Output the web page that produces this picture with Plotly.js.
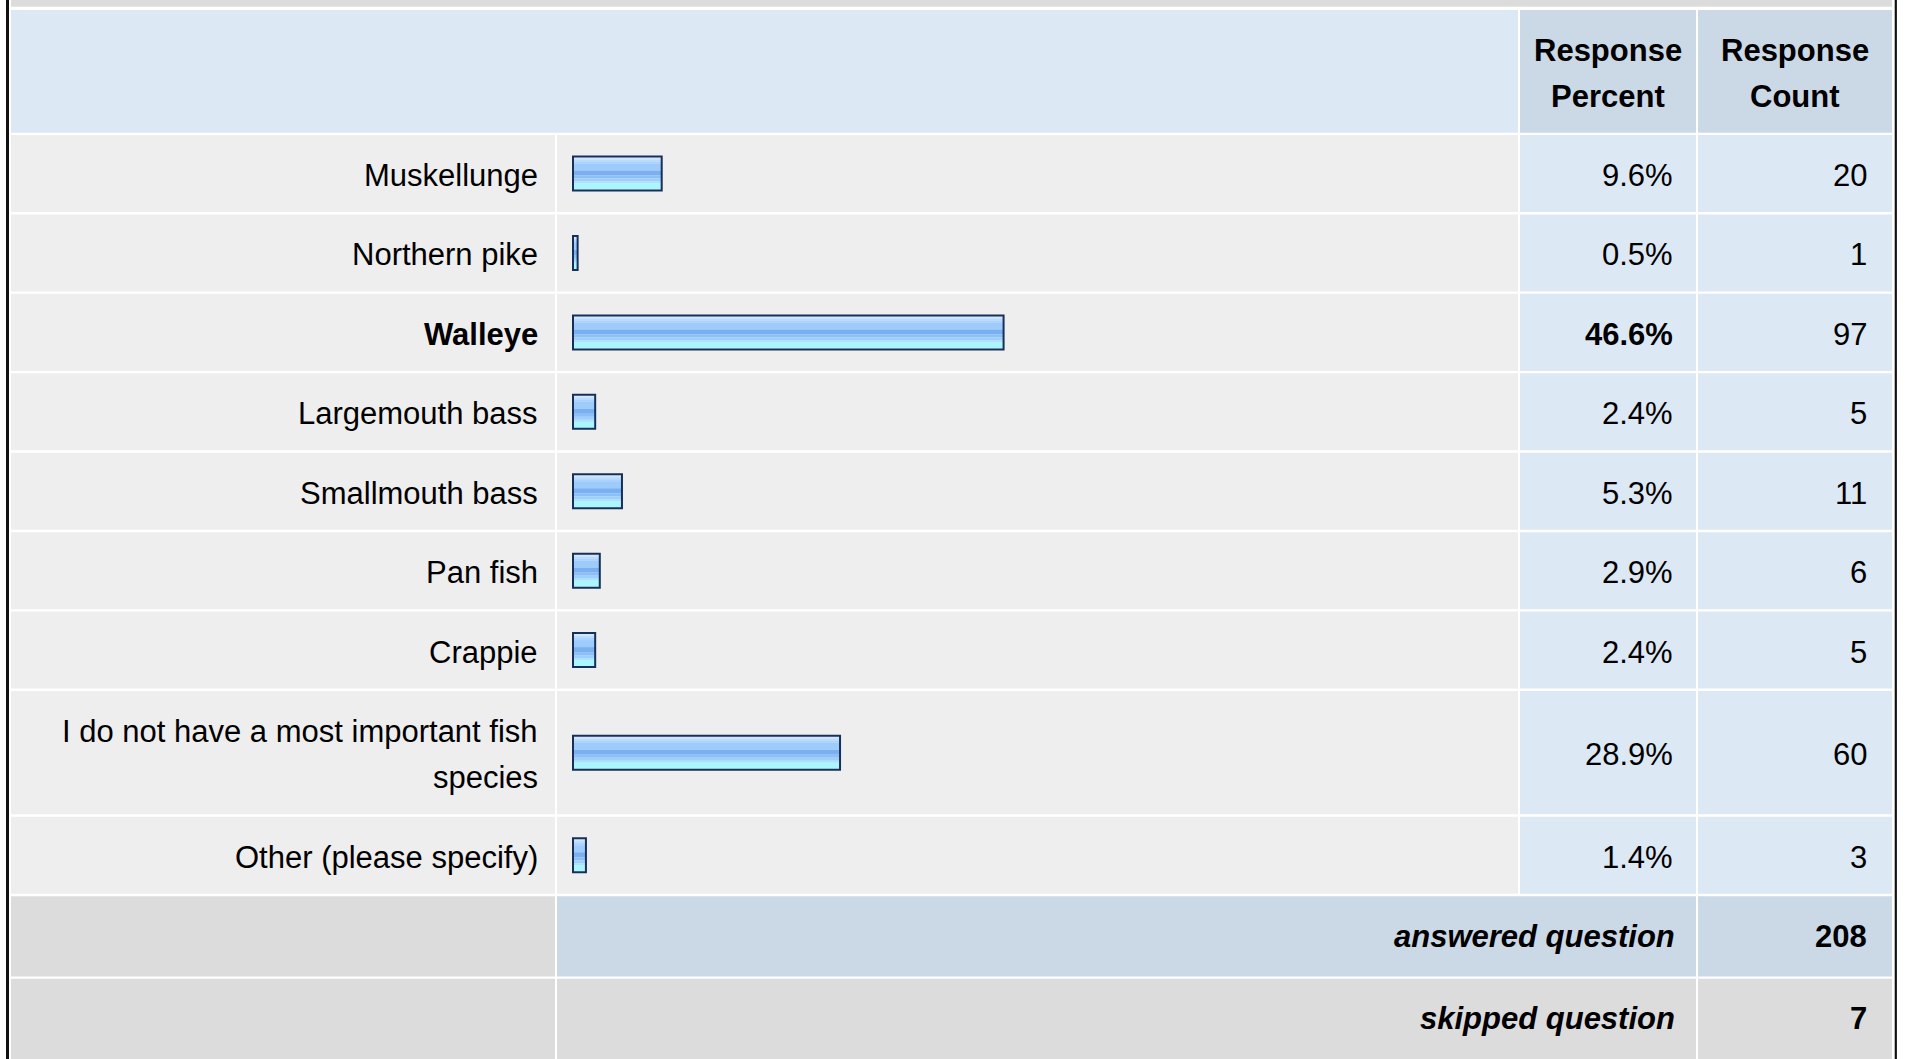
<!DOCTYPE html>
<html><head><meta charset="utf-8">
<script src="https://cdn.plot.ly/plotly-3.0.1.min.js"></script>
<style>html,body{margin:0;padding:0;background:#fff;overflow:hidden}</style>
</head><body><div id="chart" style="width:1907px;height:1059px"></div>
<script>
// ---------- data ----------
const categories = ["Muskellunge","Northern pike","Walleye","Largemouth bass","Smallmouth bass","Pan fish","Crappie","I do not have a most important fish<br>species","Other (please specify)"];
const responsePercent = [9.6,0.5,46.6,2.4,5.3,2.9,2.4,28.9,1.4];
const responseCount = [20,1,97,5,11,6,5,60,3];
const headerLabels = ["Response<br>Percent","Response<br>Count"];
const summaryLabels = ["answered question","skipped question"];
const summaryCounts = [208,7];

// ---------- layout geometry / styles ----------
const W = 1907, H = 1059;
const FONT = '"Liberation Sans", Arial, Helvetica, sans-serif';
const FS = 31;
const col = {label:[11,555], bar:[557,1518], pct:[1520,1696], cnt:[1698,1892]};
const headerTop = 10, headerBot = 132.7;
const firstTop = 135, gap = 2.4, pitch1 = 79.43, pitch2 = 125.7, pitchSum = 82.65;
const lineStep = 46;
const C = {hdrLight:'#dde8f5', hdrDark:'#cbd8e6', rowGray:'#eeeeee', rowBlue:'#dde8f5', sumGray:'#dcdcdc', sumBlue:'#cbd8e6', border:'#111111', barLine:'#17305a'};
const stripColors = ['#cfe5ff','#b8daff','#a8d2ff','#9ccbfc','#79b0f1','#8cbff7','#9dcffd','#a9e2ff','#aaf6ff'];
const stripHeights = [2,2,2,7,5,3,3,2,6];
const pxPerPct = 9.24, barX0 = 573, pad = 10;

// row geometry
const rows = [];
let cur = firstTop;
categories.forEach(c => {
  const n = c.split('<br>').length;
  const p = n > 1 ? pitch2 : pitch1;
  rows.push({top:cur, bot:cur+p-gap});
  cur += p;
});
const sumRows = [];
summaryLabels.forEach((s,i) => {
  const bot = i === summaryLabels.length-1 ? H : cur + pitchSum - gap;
  sumRows.push({top:cur, bot:bot});
  cur += pitchSum;
});
const centers = rows.map(r => (r.top + r.bot)/2);

const shapes = [];
function rect(x0,x1,y0,y1,color){
  shapes.push({type:'rect', xref:'paper', yref:'paper', x0:x0/W, x1:x1/W, y0:1-y1/H, y1:1-y0/H,
    fillcolor:color, line:{width:0}, layer:'below'});
}
const annotations = [];
function txt(x, y, t, anchor, extra){
  annotations.push(Object.assign({xref:'paper', yref:'paper', x:x/W, y:1-y/H, text:t, showarrow:false,
    xanchor:anchor, yanchor:'middle', font:{family:FONT, size:FS, color:'#000'}}, extra||{}));
}
function multi(x, yc, t, anchor, wrap){
  const lines = t.split('<br>');
  lines.forEach((l,j) => {
    const y = yc + (j - (lines.length-1)/2)*lineStep + 2;
    txt(x, y, wrap ? wrap(l) : l, anchor);
  });
}

// outer frame
rect(6, 9, 0, H, C.border);
rect(1894.7, 1896.9, 0, H, C.border);
rect(col.label[0], col.cnt[1], 0, 6.7, C.sumGray);
// header
rect(col.label[0], col.bar[1], headerTop, headerBot, C.hdrLight);
rect(col.pct[0], col.pct[1], headerTop, headerBot, C.hdrDark);
rect(col.cnt[0], col.cnt[1], headerTop, headerBot, C.hdrDark);
const hc = (headerTop+headerBot)/2;
multi((col.pct[0]+col.pct[1])/2, hc, headerLabels[0], 'center', l => '<b>'+l+'</b>');
multi((col.cnt[0]+col.cnt[1])/2, hc, headerLabels[1], 'center', l => '<b>'+l+'</b>');

// data rows
const maxIdx = responsePercent.indexOf(Math.max(...responsePercent));
rows.forEach((r,i) => {
  rect(col.label[0], col.label[1], r.top, r.bot, C.rowGray);
  rect(col.bar[0], col.bar[1], r.top, r.bot, C.rowGray);
  rect(col.pct[0], col.pct[1], r.top, r.bot, C.rowBlue);
  rect(col.cnt[0], col.cnt[1], r.top, r.bot, C.rowBlue);
  const b = i === maxIdx ? (s => '<b>'+s+'</b>') : (s => s);
  multi(539.5, centers[i], categories[i], 'right', b);
  txt(1675, centers[i]+2, b(responsePercent[i].toFixed(1)+'%'), 'right');
  txt(1869, centers[i]+2, String(responseCount[i]), 'right');
});

// summary rows
sumRows.forEach((r,i) => {
  const c = i === 0 ? C.sumBlue : C.sumGray;
  rect(col.label[0], col.label[1], r.top, r.bot, C.sumGray);
  rect(col.bar[0], col.pct[1], r.top, r.bot, c);
  rect(col.cnt[0], col.cnt[1], r.top, r.bot, c);
  const yc = (r.top + r.bot)/2;
  txt(1677, yc, '<b><i>'+summaryLabels[i]+'</i></b>', 'right');
  txt(1869, yc, '<b>'+summaryCounts[i]+'</b>', 'right');
});

// bars: gradient strips + border, all from responsePercent
const traces = [];
let off = -16;
stripColors.forEach((color,k) => {
  traces.push({type:'bar', orientation:'h', x:responsePercent, y:centers,
    width:stripHeights[k], offset:off, marker:{color:color, line:{width:0}},
    hoverinfo:'skip', showlegend:false});
  off += stripHeights[k];
});
traces.push({type:'bar', orientation:'h', x:responsePercent, y:centers,
  width:34, offset:-17, marker:{color:'rgba(0,0,0,0)', line:{width:2, color:C.barLine}},
  hoverinfo:'skip', showlegend:false});

const domW = 100*pxPerPct + 2*pad;
const layout = {
  width:W, height:H, margin:{l:0,r:0,t:0,b:0,pad:0},
  paper_bgcolor:'#ffffff', plot_bgcolor:'rgba(0,0,0,0)',
  barmode:'overlay', showlegend:false,
  xaxis:{domain:[(barX0-pad)/W, (barX0-pad+domW)/W], range:[-pad/pxPerPct, 100+pad/pxPerPct],
    visible:false, fixedrange:true},
  yaxis:{domain:[0,1], range:[H,0], visible:false, fixedrange:true},
  shapes:shapes, annotations:annotations
};
Plotly.newPlot('chart', traces, layout, {staticPlot:true, displayModeBar:false});
</script>
</body></html>
